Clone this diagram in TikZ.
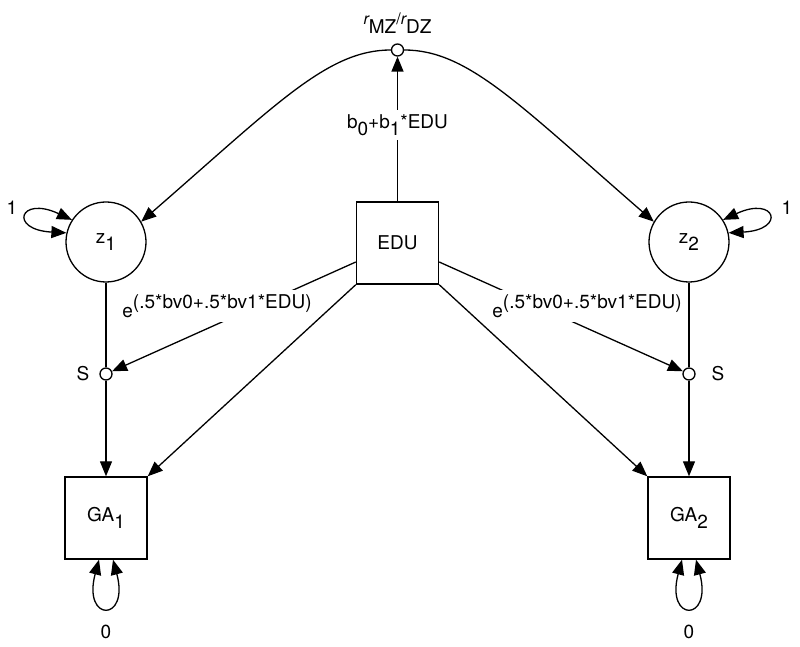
\documentclass[tikz,border=0pt]{standalone}
\usepackage{fontspec}
\setmainfont{TeX Gyre Heros}
\usetikzlibrary{arrows.meta}
\newcommand{\lo}[1]{\raisebox{-0.35em}{#1}}
\newcommand{\hi}[1]{\raisebox{0.45em}{#1}}
\newcommand{\rsm}{\fontsize{16}{18}\selectfont\itshape r}
\tikzset{
  obs/.style={draw, rectangle, minimum size=82pt, line width=1.4pt},
  lat/.style={draw, circle, minimum size=80pt},
  dot/.style={draw, circle, minimum size=12pt, inner sep=0pt},
  gap/.style={fill=white, inner xsep=2pt, inner ysep=5pt}
}
\begin{document}
\begin{tikzpicture}[x=1pt, y=1pt, line width=1.3pt,
    >={Triangle[length=15pt,width=12pt]},
    every node/.style={font=\fontsize{19}{22}\selectfont}]
  \useasboundingbox (0,0) rectangle (800,647);
  \node[dot] (rr) at (397.5,597) {};
  \node (rrlab) at (397.5,624) {\hi{\rsm}MZ\hi{\fontsize{16}{18}\selectfont/\rsm}DZ};
  \node[obs] (edu) at (397.5,404) {EDU};
  \node[lat] (z1) at (106,405) {z\lo{1}};
  \node[lat] (z2) at (689,405) {z\lo{2}};
  \node[dot] (s1) at (106,273) {};
  \node[dot] (s2) at (689,273) {};
  \node[obs] (ga1) at (106,129) {GA\lo{1}};
  \node[obs] (ga2) at (689,129) {GA\lo{2}};
  \node (one1) at (12,439) {1};
  \node (one2) at (787,439) {1};
  \node (sl1) at (83,273) {S};
  \node (sl2) at (718,273) {S};
  \node (nil1) at (106,15) {0};
  \node (nil2) at (689,15) {0};
  \begin{scope}
    \draw (z1) -- (s1);
    \draw (z2) -- (s2);
    \draw[->] (s1) -- (ga1);
    \draw[->] (s2) -- (ga2);
    \draw[->] (edu) -- (rr);
    \draw[->] ([yshift=-19pt]edu.west) -- (s1);
    \draw[->] ([yshift=-19pt]edu.east) -- (s2);
    \draw[->] (edu.south west) -- (ga1.north east);
    \draw[->] (edu.south east) -- (ga2.north west);
    \draw[->] (rr) .. controls +(-70,0) and +(41:180) .. (z1.30);
    \draw[->] (rr) .. controls +(70,0) and +(139:180) .. (z2.150);
    \draw[<->] (z1.147) .. controls +(155:58) and +(177:58) .. (z1.167);
    \draw[<->] (z2.33) .. controls +(25:58) and +(3:58) .. (z2.13);
    \draw[<->] ([xshift=-7pt]ga1.south) .. controls +(-105:65) and +(-75:65) .. ([xshift=7pt]ga1.south);
    \draw[<->] ([xshift=-7pt]ga2.south) .. controls +(-105:65) and +(-75:65) .. ([xshift=7pt]ga2.south);
  \end{scope}
  \node[gap] (blab) at (397.5,522) {b\lo{0}+b\lo{1}*EDU};
  \node[gap] (elab1) at (217,341) {e\hi{(.5*bv0+.5*bv1*EDU)}};
  \node[gap] (elab2) at (587,341) {e\hi{(.5*bv0+.5*bv1*EDU)}};
\end{tikzpicture}
\end{document}
